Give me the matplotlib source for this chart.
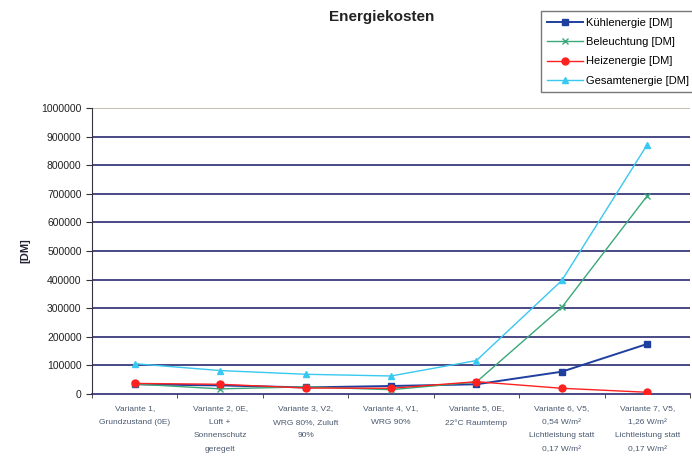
import matplotlib.pyplot as plt
import numpy as np

plt.rcParams['font.family'] = ['Liberation Sans', 'DejaVu Sans']

# Kosten je Variante in DM
varianten = [
    "Variante 1,\nGrundzustand (0E)",
    "Variante 2, 0E,\nLüft +\nSonnenschutz\ngeregelt",
    "Variante 3, V2,\nWRG 80%, Zuluft\n90%",
    "Variante 4, V1,\nWRG 90%",
    "Variante 5, 0E,\n22°C Raumtemp",
    "Variante 6, V5,\n0,54 W/m²\nLichtleistung statt\n0,17 W/m²",
    "Variante 7, V5,\n1,26 W/m²\nLichtleistung statt\n0,17 W/m²",
]
kuehlung = [34000, 30000, 23000, 28000, 34000, 78000, 175000]
beleuchtung = [35000, 18000, 25000, 15000, 42000, 303000, 693000]
heizung = [37000, 34000, 21000, 20000, 43000, 20000, 6000]
gesamt = [106000, 82000, 69000, 63000, 117000, 397000, 872000]

reihen = [
    ("Kühlenergie [DM]", kuehlung, "#1f3f9f", "s", 1.4),
    ("Beleuchtung [DM]", beleuchtung, "#3aa878", "x", 1.0),
    ("Heizenergie [DM]", heizung, "#ff2020", "o", 1.0),
    ("Gesamtenergie [DM]", gesamt, "#38c8f0", "^", 1.0),
]

fig = plt.figure(figsize=(6.92, 4.59), dpi=100)
ax = fig.add_axes([0.133, 0.1416, 0.864, 0.623])

x = np.arange(len(varianten))

# horizontale Gitterlinien alle 100000 DM
for y in range(100000, 1000001, 100000):
    farbe = "#b8b4a0" if y == 1000000 else "#2a2a70"
    ax.axhline(y, color=farbe, linewidth=1.2, zorder=1)

for name, werte, farbe, marker, lw in reihen:
    ax.plot(x, werte, color=farbe, marker=marker, markersize=5,
            linewidth=lw, label=name, zorder=3)

ax.set_xlim(-0.5, len(varianten) - 0.5)
ax.set_ylim(0, 1000000)
ax.set_yticks(range(0, 1000001, 100000))
ax.set_yticklabels([str(v) for v in range(0, 1000001, 100000)],
                   fontsize=7.5, color="#222222")
ax.set_xticks(x)
ax.set_xticklabels(varianten, fontsize=6, color="#4a5a70", linespacing=2.3)
ax.set_xticks(np.arange(-0.5, len(varianten)), minor=True)
ax.tick_params(axis="x", which="major", length=0, pad=8)
ax.tick_params(axis="x", which="minor", length=3, color="#333333")
ax.tick_params(axis="y", length=4, color="#333333")

for seite in ["top", "right"]:
    ax.spines[seite].set_visible(False)
ax.spines["left"].set_color("#333344")
ax.spines["bottom"].set_color("#2a2a70")
ax.spines["bottom"].set_linewidth(1.2)

ax.set_ylabel("[DM]", fontsize=8, fontweight="bold", color="#222233",
              labelpad=8)

fig.text(0.552, 0.962, "Energiekosten", ha="center", va="center",
         fontsize=11, fontweight="bold", color="#222222")

leg = fig.legend(loc="upper right", bbox_to_anchor=(1.005, 0.975),
                 fontsize=8, frameon=True, fancybox=False,
                 borderaxespad=0, handlelength=3.2, labelspacing=0.85,
                 borderpad=0.55, handletextpad=0.3)
leg.get_frame().set_edgecolor("#555555")
leg.get_frame().set_linewidth(1.0)

fig.savefig("out.png", dpi=100)
